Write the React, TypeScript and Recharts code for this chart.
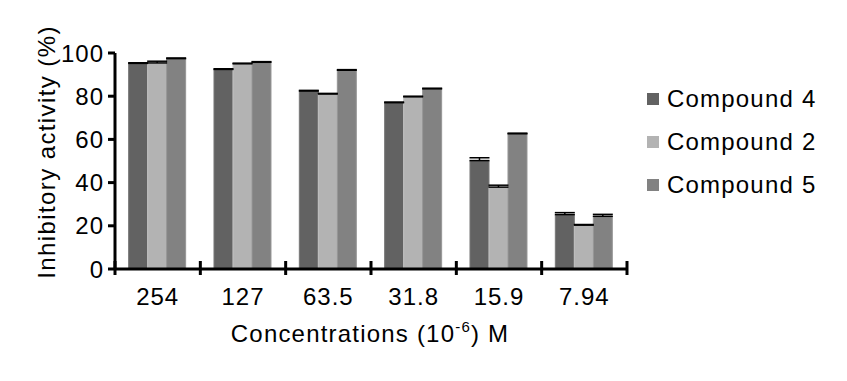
import React from 'react';
import {
  BarChart, Bar, XAxis, YAxis, Legend, ErrorBar, Label,
} from 'recharts';

const concentrations = ['254', '127', '63.5', '31.8', '15.9', '7.94'];
const compound4 = [95.2, 92.4, 82.4, 77, 50.2, 25.2];
const compound2 = [95.4, 95, 81, 79.7, 37.9, 20.3];
const compound5 = [97.4, 95.7, 92, 83.4, 62.6, 24.4];
const err4 = [0.3, 0.3, 0.3, 0.3, 1.3, 0.9];
const err2 = [0.8, 0.3, 0.3, 0.3, 0.9, 0.3];
const err5 = [0.3, 0.3, 0.3, 0.3, 0.3, 0.9];
const yTicks = [0, 20, 40, 60, 80, 100];

const series = [
  { key: 'c4', err: 'e4', name: 'Compound 4', fill: '#626262', stroke: '#777777' },
  { key: 'c2', err: 'e2', name: 'Compound 2', fill: '#b3b3b3', stroke: '#c2c2c2' },
  { key: 'c5', err: 'e5', name: 'Compound 5', fill: '#828282', stroke: '#969696' },
];

// only the upper whisker is shown in the figure
const chartData = concentrations.map((conc, i) => ({
  conc,
  c4: compound4[i],
  c2: compound2[i],
  c5: compound5[i],
  e4: [0, err4[i]],
  e2: [0, err2[i]],
  e5: [0, err5[i]],
}));

const FONT = '"Liberation Sans", Arial, sans-serif';

// label at band centre, tick marks crossing the axis at the band edges
const CategoryTick = ({ x, y, payload, index, visibleTicksCount }: any) => {
  const half = payload.offset || 0;
  const last = index === visibleTicksCount - 1;
  return (
    <g>
      <line x1={x - half} x2={x - half} y1={y - 8} y2={y + 6} stroke="#000" strokeWidth={3} />
      {last && <line x1={x + half} x2={x + half} y1={y - 8} y2={y + 6} stroke="#000" strokeWidth={3} />}
      <text x={x} y={y + 36} textAnchor="middle" fontSize={24} fontFamily={FONT} fill="#000" letterSpacing={1}>
        {payload.value}
      </text>
    </g>
  );
};

const XTitle = ({ viewBox }: any) => {
  const cx = viewBox.x + viewBox.width / 2 - 1;
  const by = viewBox.y + 73;
  return (
    <text x={cx} y={by} textAnchor="middle" fontSize={24} fontFamily={FONT} fill="#000" letterSpacing={1.2}>
      Concentrations (10
      <tspan fontSize={15} dy={-10}>-6</tspan>
      <tspan dy={10}>) M</tspan>
    </text>
  );
};

const YTitle = ({ viewBox }: any) => {
  const cx = 46;
  const cy = viewBox.y + viewBox.height / 2 - 9;
  return (
    <text
      x={cx}
      y={cy}
      transform={`rotate(-90, ${cx}, ${cy})`}
      textAnchor="middle"
      dominantBaseline="central"
      fontSize={24}
      fontFamily={FONT}
      fill="#000"
      letterSpacing={1.4}
    >
      Inhibitory activity (%)
    </text>
  );
};

const LegendContent = () => (
  <div style={{ fontFamily: FONT }}>
    {series.map((s) => (
      <div key={s.key} style={{ display: 'flex', alignItems: 'center', height: 43 }}>
        <span style={{ width: 12, height: 12, background: s.fill, marginRight: 8, display: 'inline-block' }} />
        <span style={{ fontSize: 24, color: '#000', letterSpacing: 1.2 }}>{s.name}</span>
      </div>
    ))}
  </div>
);

export default function App() {
  return (
    <div style={{ position: 'absolute', left: 0, top: 0, width: 847, height: 381, background: '#fff' }}>
      <BarChart
        width={847}
        height={381}
        data={chartData}
        margin={{ top: 53, right: 220, bottom: 111, left: 0 }}
        barCategoryGap="16%"
        barGap={0}
      >
        <XAxis
          dataKey="conc"
          height={1}
          tickSize={0}
          tickMargin={0}
          tickLine={false}
          axisLine={{ stroke: '#000', strokeWidth: 3 }}
          tick={<CategoryTick />}
          interval={0}
        >
          <Label content={<XTitle />} />
        </XAxis>
        <YAxis
          width={115}
          domain={[0, 100]}
          ticks={yTicks}
          interval={0}
          axisLine={{ stroke: '#000', strokeWidth: 3 }}
          tickLine={{ stroke: '#000', strokeWidth: 3 }}
          tickSize={7}
          tickMargin={4}
          tick={{ fontSize: 24, fill: '#000', fontFamily: FONT, letterSpacing: 1 }}
        >
          <Label content={<YTitle />} />
        </YAxis>
        <Legend
          layout="horizontal"
          verticalAlign="middle"
          align="center"
          wrapperStyle={{ left: 647, top: 77, width: 200 }}
          content={<LegendContent />}
        />
        {series.map((s) => (
          <Bar
            key={s.key}
            dataKey={s.key}
            name={s.name}
            fill={s.fill}
            stroke={s.stroke}
            strokeWidth={1}
            isAnimationActive={false}
          >
            <ErrorBar dataKey={s.err} width={10} stroke="#000" strokeWidth={1.5} direction="y" />
          </Bar>
        ))}
      </BarChart>
    </div>
  );
}
